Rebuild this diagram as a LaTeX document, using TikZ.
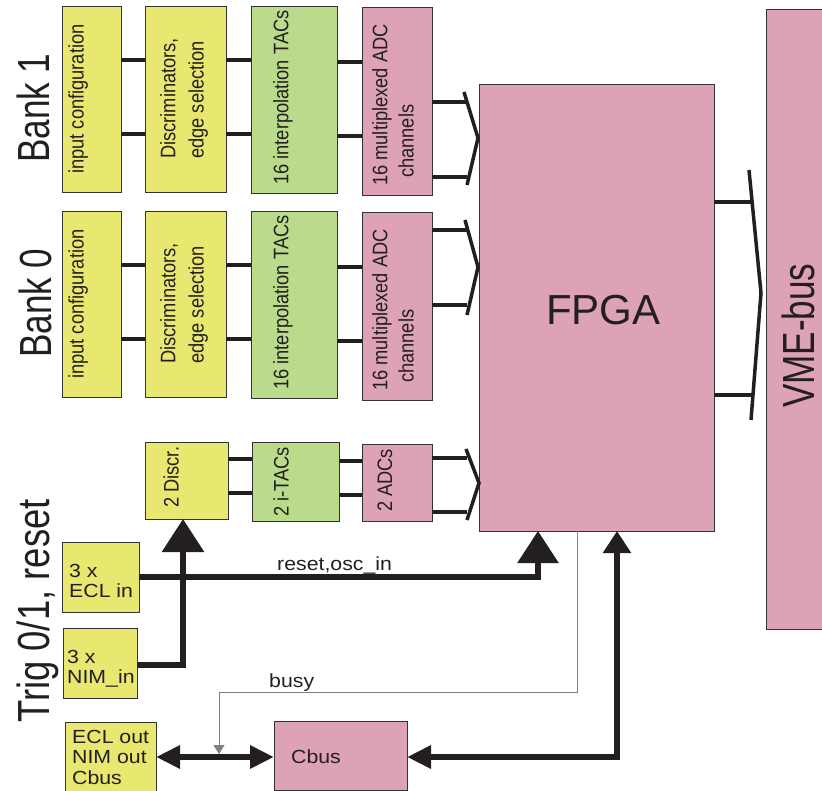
\documentclass[tikz,border=0pt]{standalone}
\usepackage{fontspec}
\setmainfont{Liberation Sans}
\newfontfamily\narrowf[FakeStretch=0.87]{Liberation Sans}
\newfontfamily\bignarrowf[FakeStretch=0.78]{Liberation Sans}
\newfontfamily\trignarrowf[FakeStretch=0.81]{Liberation Sans}
\newfontfamily\widef[FakeStretch=1.12]{Liberation Sans}
\usetikzlibrary{arrows.meta}
\definecolor{cyel}{RGB}{232,232,112}
\definecolor{cgrn}{RGB}{185,219,139}
\definecolor{cpnk}{RGB}{221,162,181}
\definecolor{cink}{RGB}{35,31,32}
\newcommand{\blk}[6]{\node[#1, minimum width={#4-#2}, minimum height={#5-#3}] (#6) at (#2,#3) {};}
\newcommand{\bankrow}[1]{%
  \blk{ybox}{62}{6}{121}{192}{inp#1}
  \blk{ybox}{145}{6}{226}{192}{dis#1}
  \blk{gbox}{251}{6}{337}{193}{tac#1}
  \blk{pbox}{362}{7}{432}{195}{adc#1}
  \node[vtxt] at (83.5,174) {input configuration};
  \node[vtxt] at (175.3,159) {Discriminators,};
  \node[vtxt] at (203.6,159) {edge selection};
  \node[vtxt] at (288.3,185) {16 interpolation TACs};
  \node[vtxt] at (387.3,186) {16 multiplexed ADC};
  \node[vtxt] at (413.6,178) {channels};
  \draw[conn] (inp#1.east |- 0,60) -- (dis#1.west |- 0,60);
  \draw[conn] (inp#1.east |- 0,134) -- (dis#1.west |- 0,134);
  \draw[conn] (dis#1.east |- 0,60) -- (tac#1.west |- 0,60);
  \draw[conn] (dis#1.east |- 0,134) -- (tac#1.west |- 0,134);
  \draw[conn] (tac#1.east |- 0,62) -- (adc#1.west |- 0,62);
  \draw[conn] (tac#1.east |- 0,136) -- (adc#1.west |- 0,136);
}
\begin{document}
\begin{tikzpicture}[x=1pt,y=-1pt,
  box/.style={draw=black!80, line width=0.9pt, rectangle, inner sep=0pt, outer sep=0pt, anchor=north west},
  ybox/.style={box, fill=cyel},
  gbox/.style={box, fill=cgrn},
  pbox/.style={box, fill=cpnk},
  conn/.style={draw=cink, line width=4pt},
  brk/.style={draw=cink, line width=3.5pt},
  bus/.style={draw=cink, line width=6pt},
  thinl/.style={draw=black!50, line width=0.9pt},
  vtxt/.style={rotate=90, anchor=base west, inner sep=0pt, text=cink, font=\narrowf\fontsize{21}{25}\selectfont},
  htxt/.style={anchor=base west, inner sep=0pt, text=cink, font=\widef\fontsize{19}{22}\selectfont},
  bigv/.style={rotate=90, anchor=base west, inner sep=0pt, text=cink, font=\bignarrowf\fontsize{45}{50}\selectfont},
]
\useasboundingbox (0,0) rectangle (822,791);

% banks
\begin{scope}\bankrow{1}\end{scope}
\begin{scope}[yshift=-205pt]\bankrow{0}\end{scope}

% main blocks
\blk{pbox}{479}{84}{714}{531}{fpga}
\blk{pbox}{766}{9}{850}{629}{vme}
\node[anchor=base west, inner sep=0pt, text=cink, font=\fontsize{42}{48}\selectfont] at (546,325) {FPGA};
\node[bigv] at (814,408) {VME-bus};

% bank labels
\node[bigv] at (49.8,163) {Bank 1};
\node[bigv] at (51.5,358) {Bank 0};
\node[bigv, font=\trignarrowf\fontsize{45}{50}\selectfont] at (49,723) {Trig 0/1, reset};

% bank -> FPGA
\draw[conn] (adc1.east |- 0,102) -- (467,102);
\draw[conn] (adc1.east |- 0,177) -- (467,177);
\draw[brk] (464,92) -- (478,138) -- (467,185);
\draw[conn] (adc0.east |- 0,230) -- (467,230);
\draw[conn] (adc0.east |- 0,305) -- (467,305);
\draw[brk] (465,220) -- (478,267) -- (467,315);

% trigger row
\blk{ybox}{145}{442}{228}{519}{dis2}
\blk{gbox}{252}{442}{339}{521}{tac2}
\blk{pbox}{362}{444}{432}{521}{adc2}
\node[vtxt] at (178.6,508) {2 Discr.};
\node[vtxt] at (288.6,517) {2 i-TACs};
\node[vtxt] at (392,512) {2 ADCs};
\draw[conn] (dis2.east |- 0,459) -- (tac2.west |- 0,459);
\draw[conn] (dis2.east |- 0,493) -- (tac2.west |- 0,493);
\draw[conn] (tac2.east |- 0,461) -- (adc2.west |- 0,461);
\draw[conn] (tac2.east |- 0,495) -- (adc2.west |- 0,495);
\draw[conn] (adc2.east |- 0,458) -- (467,458);
\draw[conn] (adc2.east |- 0,512) -- (467,512);
\draw[brk] (466,449) -- (479,483) -- (467,520);

% VME connection
\draw[conn] (fpga.east |- 0,202) -- (752,202);
\draw[conn] (fpga.east |- 0,395) -- (752,395);
\draw[brk] (749,170) -- (761,293) -- (751,420);

% inputs / outputs
\blk{ybox}{62}{542}{139}{612}{eclin}
\blk{ybox}{63}{628}{137}{698}{nimin}
\blk{ybox}{65}{722}{156}{795}{eclout}
\blk{pbox}{274}{721}{407}{790}{cbus}
\node[htxt] at (69,577) {3 x};
\node[htxt] at (69,597) {ECL in};
\node[htxt] at (67,663) {3 x};
\node[htxt] at (67,683) {NIM\_in};
\node[htxt] at (72,743) {ECL out};
\node[htxt] at (72,763.5) {NIM out};
\node[htxt] at (72,784) {Cbus};
\node[htxt] at (291,763) {Cbus};
\node[htxt] at (277,570) {reset,osc\_in};
\node[htxt] at (269,687) {busy};

% thick signal lines
\draw[bus, -{Triangle[length=33pt,width=41pt]}] (nimin.east |- 0,665) -| (dis2.south -| 183,0);
\draw[bus, -{Triangle[length=32pt,width=40pt]}] (eclin.east) -| (fpga.south -| 538,0);
\draw[bus, {Triangle[length=24pt,width=22pt]}-{Triangle[length=22pt,width=27pt]}] (cbus.east |- 0,757) -| (fpga.south -| 617,0);
\draw[bus, {Triangle[length=24pt,width=22pt]}-{Triangle[length=24pt,width=22pt]}] (eclout.east |- 0,757) -- (cbus.west |- 0,757);

% busy
\coordinate (busyend) at (219,754);
\draw[thinl, -{Triangle[length=9pt,width=11pt]}] (fpga.south -| 577,0) -- (577,692) -- (219,692) -- (busyend);
\end{tikzpicture}
\end{document}
